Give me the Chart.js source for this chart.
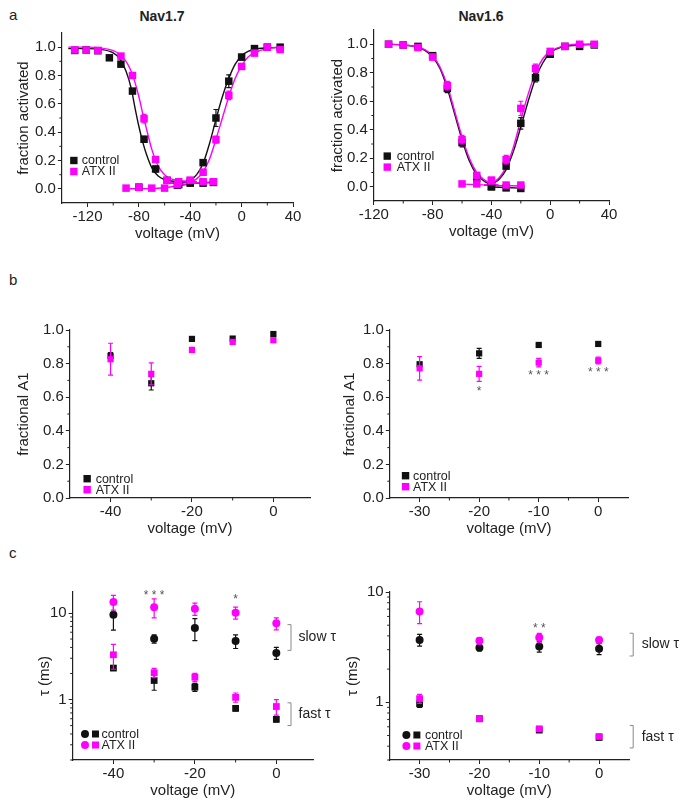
<!DOCTYPE html>
<html>
<head>
<meta charset="utf-8">
<script src="https://cdn.jsdelivr.net/npm/chart.js@4.4.1/dist/chart.umd.min.js"></script>
<style>
  body { margin: 0; background: #fff; }
  #fig { position: relative; width: 685px; height: 806px; overflow: hidden;
         font-family: "Liberation Sans", Arial, sans-serif; color: #222; }
  .pn { position: absolute; }
  .lbl { position: absolute; font-size: 15px; line-height: 15px; white-space: nowrap; }
  .ttl { position: absolute; width: 100px; text-align: center; font-size: 14px;
         line-height: 14px; font-weight: bold; }
</style>
</head>
<body>
<div id="fig">
  <div class="lbl" style="left:9px;top:7px">a</div>
  <div class="lbl" style="left:9px;top:272px">b</div>
  <div class="lbl" style="left:9px;top:545px">c</div>
  <div class="ttl" style="left:112px;top:9px">Nav1.7</div>
  <div class="ttl" style="left:431px;top:9px">Nav1.6</div>
  <div class="pn"><canvas id="a1"></canvas></div>
  <div class="pn"><canvas id="a2"></canvas></div>
  <div class="pn"><canvas id="b1"></canvas></div>
  <div class="pn"><canvas id="b2"></canvas></div>
  <div class="pn"><canvas id="c1"></canvas></div>
  <div class="pn"><canvas id="c2"></canvas></div>
</div>
<script>
// ---------- data ----------
const fracTicks = [0, 0.2, 0.4, 0.6, 0.8, 1.0];
const tauTicks = [1, 10];

// a: Nav1.7
const n17InV = [-130, -121, -112, -103, -94, -85, -76, -67, -58, -49, -40];
const n17InCtl = [0.977, 0.98, 0.975, 0.925, 0.88, 0.69, 0.35, 0.14, 0.06, 0.03, 0.045];
const n17InCtlErr = [0.01, 0.01, 0.01, 0.01, 0.01, 0.015, 0.02, 0.02, 0.01, 0.01, 0.01];
const n17InAtx = [0.98, 0.98, 0.977, null, 0.937, 0.80, 0.495, 0.207, 0.06, 0.05, 0.06];
const n17InAtxErr = [0.01, 0.01, 0.01, null, 0.015, 0.02, 0.03, 0.02, 0.01, 0.01, 0.01];
const n17ActV = [-30, -20, -10, 0, 10, 20, 30];
const n17ActCtl = [0.185, 0.50, 0.76, 0.93, 0.99, 1.0, 1.0];
const n17ActCtlErr = [0.02, 0.06, 0.045, 0.02, 0.01, 0.01, 0.01];
const n17ActAtx = [0.117, 0.347, 0.66, 0.864, 0.958, 1.0, 0.983];
const n17ActAtxErr = [0.02, 0.025, 0.03, 0.02, 0.01, 0.01, 0.01];
const n17FlatAtxV = [-90, -80, -70, -60, -50, -40, -30, -22];
const n17FlatAtx = [0.005, 0.01, 0.005, 0.005, 0.03, 0.06, 0.05, 0.05];
const n17FlatCtlV = [-80, -50, -40, -30, -22];
const n17FlatCtl = [0.012, 0.025, 0.04, 0.04, 0.045];
// fitted curves (traced)
const n17FitInV = [-135, -120, -110, -100, -95, -90, -86, -83, -80, -77, -74, -70, -65, -60, -55, -45, -35];
const n17FitInCtl = [0.99, 0.99, 0.985, 0.96, 0.92, 0.83, 0.71, 0.57, 0.44, 0.33, 0.24, 0.15, 0.09, 0.065, 0.055, 0.05, 0.05];
const n17FitInAtx = [1.0, 1.0, 0.995, 0.975, 0.95, 0.9, 0.83, 0.75, 0.65, 0.53, 0.42, 0.28, 0.16, 0.1, 0.07, 0.055, 0.05];
const n17FitActV = [-55, -45, -40, -35, -30, -25, -20, -15, -10, -5, 0, 5, 10, 20, 32];
const n17FitActCtl = [0.04, 0.045, 0.06, 0.1, 0.18, 0.32, 0.49, 0.65, 0.78, 0.88, 0.94, 0.97, 0.985, 0.995, 1.0];
const n17FitActAtx = [0.04, 0.04, 0.05, 0.07, 0.12, 0.21, 0.35, 0.5, 0.65, 0.78, 0.87, 0.93, 0.96, 0.99, 1.0];
const n17FitFlatAtxV = [-92, -70, -60, -50, -40, -30, -20];
const n17FitFlatAtx = [0.0, 0.002, 0.008, 0.02, 0.035, 0.045, 0.05];
const n17FitFlatCtlV = [-52, -40, -30, -20];
const n17FitFlatCtl = [0.02, 0.035, 0.042, 0.045];

// a: Nav1.6
const n16InV = [-110, -100, -90, -80, -70, -60, -50, -40];
const n16InCtl = [1.0, 0.995, 0.985, 0.92, 0.69, 0.31, 0.06, 0.0];
const n16InCtlErr = [0.01, 0.01, 0.01, 0.01, 0.03, 0.03, 0.01, 0.01];
const n16InAtx = [1.0, 0.995, 0.977, 0.91, 0.71, 0.33, 0.08, 0.04];
const n16InAtxErr = [0.01, 0.01, 0.02, 0.02, 0.03, 0.03, 0.02, 0.01];
const n16ActV = [-30, -20, -10, 0, 10, 20, 30];
const n16ActCtl = [0.145, 0.445, 0.765, 0.93, 0.985, 0.985, 0.995];
const n16ActCtlErr = [0.02, 0.04, 0.03, 0.02, 0.01, 0.01, 0.01];
const n16ActAtx = [0.19, 0.55, 0.83, 0.95, 0.985, 1.0, 1.0];
const n16ActAtxErr = [0.03, 0.05, 0.03, 0.01, 0.01, 0.01, 0.01];
const n16FlatAtxV = [-60, -50, -40, -30, -20];
const n16FlatAtx = [0.02, 0.02, 0.047, 0.012, 0.012];
const n16FlatCtlV = [-40, -30, -20];
const n16FlatCtl = [0.0, -0.008, -0.012];
const n16FitInV = [-112, -100, -90, -85, -80, -75, -70, -65, -60, -55, -50, -45, -40, -35];
const n16FitInCtl = [1.0, 0.995, 0.978, 0.955, 0.91, 0.83, 0.69, 0.51, 0.33, 0.18, 0.085, 0.04, 0.015, 0.008];
const n16FitInAtx = [1.0, 0.995, 0.98, 0.96, 0.92, 0.84, 0.71, 0.53, 0.35, 0.2, 0.1, 0.05, 0.02, 0.012];
const n16FitActV = [-45, -40, -35, -30, -25, -20, -15, -10, -5, 0, 5, 10, 20, 30];
const n16FitActCtl = [0.01, 0.02, 0.05, 0.12, 0.25, 0.42, 0.6, 0.76, 0.87, 0.94, 0.97, 0.985, 0.995, 1.0];
const n16FitActAtx = [0.01, 0.025, 0.06, 0.14, 0.28, 0.47, 0.65, 0.8, 0.9, 0.95, 0.975, 0.99, 1.0, 1.0];
const n16FitFlatAtxV = [-62, -40, -20];
const n16FitFlatAtx = [0.02, 0.01, 0.005];
const n16FitFlatCtlV = [-42, -20];
const n16FitFlatCtl = [0.0, -0.01];

// b: fractional A1
const b17V = [-40, -30, -20, -10, 0];
const b17Ctl = [0.846, 0.683, 0.947, 0.949, 0.976];
const b17CtlErr = [0.02, 0.04, 0.01, 0.01, 0.01];
const b17Atx = [0.826, 0.739, 0.881, 0.929, 0.939];
const b17AtxErr = [0.095, 0.065, 0.015, 0.01, 0.01];
const b16V = [-30, -20, -10, 0];
const b16Ctl = [0.796, 0.861, 0.911, 0.917];
const b16CtlErr = [0.01, 0.03, 0.01, 0.01];
const b16Atx = [0.772, 0.739, 0.806, 0.818];
const b16AtxErr = [0.07, 0.045, 0.025, 0.02];

// c: time constants (ms)
const c17V = [-40, -30, -20, -10, 0];
const c17SlowCtl = [9.56, 5.04, 6.7, 4.74, 3.46];
const c17SlowCtlErr = [3.2, 0.55, 1.9, 0.85, 0.55];
const c17SlowAtx = [13.4, 11.7, 11.2, 10.1, 7.6];
const c17SlowAtxErr = [2.6, 2.9, 1.8, 1.6, 1.2];
const c17FastCtl = [2.31, 1.66, 1.39, 0.79, 0.59];
const c17FastCtlErr = [0.05, 0.38, 0.15, 0.05, 0.04];
const c17FastAtx = [3.29, 2.04, 1.81, 1.06, 0.83];
const c17FastAtxErr = [1.05, 0.25, 0.2, 0.13, 0.17];
const c16V = [-30, -20, -10, 0];
const c16SlowCtl = [3.68, 3.13, 3.2, 3.06];
const c16SlowCtlErr = [0.45, 0.2, 0.35, 0.35];
const c16SlowAtx = [6.66, 3.62, 3.86, 3.68];
const c16SlowAtxErr = [1.5, 0.25, 0.35, 0.2];
const c16FastCtl = [0.97, 0.71, 0.56, 0.48];
const c16FastCtlErr = [0.07, 0.02, 0.02, 0.02];
const c16FastAtx = [1.08, 0.71, 0.575, 0.49];
const c16FastAtxErr = [0.1, 0.03, 0.02, 0.02];

// ---------- drawing ----------
const BLK = '#111', MAG = '#ff00ff', INK = '#222';
const FONT = '"Liberation Sans", Arial, sans-serif';
Chart.defaults.font.family = FONT;
Chart.defaults.animation = false;

const xy = (xs, ys) => xs.map((x, i) => ({ x: x, y: ys[i] }));

function marks(xs, ys, err, color, style, r, order) {
    return { data: xy(xs, ys), err: err, showLine: false, pointStyle: style, pointRadius: r,
        backgroundColor: color, borderColor: color, borderWidth: 0, order: order, clip: false };
}
function fit(xs, ys, color) {
    return { data: xy(xs, ys), showLine: true, pointRadius: 0, borderColor: color, borderWidth: 1.4,
        cubicInterpolationMode: 'monotone', fill: false, order: 5, clip: false };
}
function axis(type, min, max, ticks, title, fmt, gap) {
    return {
        type: type, min: min, max: max,
        afterBuildTicks: s => { s.ticks = ticks.map(v => ({ value: v })); },
        ticks: { color: INK, font: { size: 15, lineHeight: 1 }, padding: 2,
                 maxRotation: 0, autoSkip: false, callback: fmt },
        grid: { drawOnChartArea: false, drawTicks: true, tickLength: 4, color: INK, lineWidth: 1 },
        border: { display: true, color: INK, width: 1.2 },
        title: { display: true, text: title, color: INK, font: { size: 15, lineHeight: 1 },
                 padding: { top: 0, bottom: gap } }
    };
}

const extras = {
    id: 'extras',
    beforeDatasetDraw(chart, args) {
        const ds = chart.data.datasets[args.index];
        if (!ds.err) return;
        const ctx = chart.ctx, ys = chart.scales.y;
        ctx.save();
        ctx.strokeStyle = ds.borderColor;
        ctx.lineWidth = 1.2;
        ctx.beginPath();
        args.meta.data.forEach((pt, i) => {
            const p = ds.data[i], e = ds.err[i];
            if (p.y == null || !e) return;
            const lo = ys.type === 'logarithmic' ? Math.max(p.y - e, p.y * 0.2) : p.y - e;
            const y1 = ys.getPixelForValue(p.y + e), y2 = ys.getPixelForValue(lo);
            ctx.moveTo(pt.x, y1); ctx.lineTo(pt.x, y2);
            ctx.moveTo(pt.x - 2.5, y1); ctx.lineTo(pt.x + 2.5, y1);
            ctx.moveTo(pt.x - 2.5, y2); ctx.lineTo(pt.x + 2.5, y2);
        });
        ctx.stroke();
        ctx.restore();
    },
    afterDraw(chart, args, o) {
        const ctx = chart.ctx, xs = chart.scales.x, ys = chart.scales.y, ca = chart.chartArea;
        ctx.save();
        // minor ticks
        ctx.strokeStyle = INK;
        ctx.lineWidth = 1;
        ctx.beginPath();
        (o.minorX || []).forEach(v => {
            const px = xs.getPixelForValue(v);
            ctx.moveTo(px, ca.bottom); ctx.lineTo(px, ca.bottom + 2.5);
        });
        (o.minorY || []).forEach(v => {
            const py = ys.getPixelForValue(v);
            ctx.moveTo(ca.left, py); ctx.lineTo(ca.left - 2.5, py);
        });
        ctx.stroke();
        // significance stars
        ctx.fillStyle = '#555';
        ctx.font = '12px ' + FONT;
        ctx.textAlign = 'center';
        ctx.textBaseline = 'middle';
        (o.stars || []).forEach(s => {
            ctx.fillText(s.t, xs.getPixelForValue(s.x), ys.getPixelForValue(s.y) + 3);
        });
        // brackets
        (o.brackets || []).forEach(b => {
            const px = xs.getPixelForValue(b.x);
            const y1 = ys.getPixelForValue(b.y1), y2 = ys.getPixelForValue(b.y2);
            ctx.strokeStyle = '#888';
            ctx.beginPath();
            ctx.moveTo(px - 3.5, y1); ctx.lineTo(px, y1); ctx.lineTo(px, y2); ctx.lineTo(px - 3.5, y2);
            ctx.stroke();
            ctx.fillStyle = INK;
            ctx.font = '14px ' + FONT;
            ctx.textAlign = 'left';
            ctx.fillText(b.label, px + b.tx, (y1 + y2) / 2);
        });
        // legend
        const lg = o.legend;
        if (lg) {
            ctx.font = '12.5px ' + FONT;
            ctx.textAlign = 'left';
            ctx.textBaseline = 'middle';
            [['control', BLK], ['ATX II', MAG]].forEach((row, i) => {
                const x = ca.left + lg.dx, y = ca.bottom - lg.dy + i * 11;
                ctx.fillStyle = row[1];
                if (lg.circle) {
                    ctx.beginPath();
                    ctx.arc(x, y, 4, 0, Math.PI * 2);
                    ctx.fill();
                    ctx.fillRect(x + 7, y - 3.5, 7, 7);
                } else {
                    ctx.fillRect(x - 3.7, y - 3.7, 7.4, 7.4);
                }
                ctx.fillStyle = INK;
                ctx.fillText(row[0], x + lg.tx, y + 0.5);
            });
        }
        ctx.restore();
    }
};

function panel(id, box, datasets, scales, extra, padRight) {
    const canvas = document.getElementById(id);
    canvas.width = 330; canvas.height = 240;
    canvas.parentNode.style.width = '330px';
    canvas.parentNode.style.height = '240px';
    const chart = new Chart(canvas.getContext('2d'), {
        type: 'scatter',
        data: { datasets: datasets },
        options: {
            responsive: false, maintainAspectRatio: false, events: [],
            layout: { padding: { top: 12, right: padRight, bottom: 2, left: 2 } },
            scales: scales,
            plugins: { legend: { display: false }, tooltip: { enabled: false }, extras: extra }
        },
        plugins: [extras]
    });
    // shift and size the canvas so the plot area sits where it does in the figure
    const div = canvas.parentNode;
    for (let k = 0; k < 3; k++) {
        const ca = chart.chartArea;
        const w = Math.round(chart.width + (box.r - box.l) - (ca.right - ca.left));
        const h = Math.round(chart.height + (box.b - box.t) - (ca.bottom - ca.top));
        div.style.width = w + 'px';
        div.style.height = h + 'px';
        chart.resize(w, h);
    }
    const ca = chart.chartArea;
    div.style.left = (box.l - ca.left) + 'px';
    div.style.top = (box.t - ca.top) + 'px';
    return chart;
}

const f1 = v => v.toFixed(1);
const fs = v => String(v);

// a, Nav1.7
panel('a1', { l: 61.7, t: 32.5, r: 293, b: 202.5 }, [
    marks(n17InV, n17InAtx, n17InAtxErr, MAG, 'rect', 5.3, 1),
    marks(n17ActV, n17ActAtx, n17ActAtxErr, MAG, 'rect', 5.3, 1),
    marks(n17FlatAtxV, n17FlatAtx, null, MAG, 'rect', 5.3, 1),
    marks(n17InV, n17InCtl, n17InCtlErr, BLK, 'rect', 5.3, 2),
    marks(n17ActV, n17ActCtl, n17ActCtlErr, BLK, 'rect', 5.3, 2),
    marks(n17FlatCtlV, n17FlatCtl, null, BLK, 'rect', 5.3, 2),
    fit(n17FitInV, n17FitInAtx, MAG), fit(n17FitActV, n17FitActAtx, MAG), fit(n17FitFlatAtxV, n17FitFlatAtx, MAG),
    fit(n17FitInV, n17FitInCtl, BLK), fit(n17FitActV, n17FitActCtl, BLK), fit(n17FitFlatCtlV, n17FitFlatCtl, BLK)
], {
    x: axis('linear', -140, 40, [-120, -80, -40, 0, 40], 'voltage (mV)', fs, 0),
    y: axis('linear', -0.1, 1.1, fracTicks, 'fraction activated', f1, 2)
}, {
    minorX: [-100, -60, -20, 20], minorY: [0.1, 0.3, 0.5, 0.7, 0.9],
    legend: { dx: 12, dy: 42.5, tx: 8 }
}, 16);

// a, Nav1.6
panel('a2', { l: 374.3, t: 30.1, r: 609, b: 200.9 }, [
    marks(n16InV, n16InAtx, n16InAtxErr, MAG, 'rect', 5.3, 1),
    marks(n16ActV, n16ActAtx, n16ActAtxErr, MAG, 'rect', 5.3, 1),
    marks(n16FlatAtxV, n16FlatAtx, null, MAG, 'rect', 5.3, 1),
    marks(n16InV, n16InCtl, n16InCtlErr, BLK, 'rect', 5.3, 2),
    marks(n16ActV, n16ActCtl, n16ActCtlErr, BLK, 'rect', 5.3, 2),
    marks(n16FlatCtlV, n16FlatCtl, null, BLK, 'rect', 5.3, 2),
    fit(n16FitInV, n16FitInAtx, MAG), fit(n16FitActV, n16FitActAtx, MAG), fit(n16FitFlatAtxV, n16FitFlatAtx, MAG),
    fit(n16FitInV, n16FitInCtl, BLK), fit(n16FitActV, n16FitActCtl, BLK), fit(n16FitFlatCtlV, n16FitFlatCtl, BLK)
], {
    x: axis('linear', -120, 40, [-120, -80, -40, 0, 40], 'voltage (mV)', fs, 0),
    y: axis('linear', -0.1, 1.1, fracTicks, 'fraction activated', f1, 0)
}, {
    minorX: [-100, -60, -20, 20], minorY: [0.1, 0.3, 0.5, 0.7, 0.9],
    legend: { dx: 13.4, dy: 44.9, tx: 9.5 }
}, 16);

// b, Nav1.7
panel('b1', { l: 70, t: 330, r: 310, b: 498.3 }, [
    marks(b17V, b17Atx, b17AtxErr, MAG, 'rect', 4.4, 1),
    marks(b17V, b17Ctl, b17CtlErr, BLK, 'rect', 4.4, 2)
], {
    x: axis('linear', -50, 9, [-40, -20, 0], 'voltage (mV)', fs, 0),
    y: axis('linear', 0, 1, fracTicks, 'fractional A1', f1, 10)
}, {
    minorX: [-30, -10], minorY: [0.1, 0.3, 0.5, 0.7, 0.9],
    legend: { dx: 17.3, dy: 19.3, tx: 8.5 }
}, 16);

// b, Nav1.6
panel('b2', { l: 390, t: 330, r: 628.3, b: 498.3 }, [
    marks(b16V, b16Atx, b16AtxErr, MAG, 'rect', 4.4, 1),
    marks(b16V, b16Ctl, b16CtlErr, BLK, 'rect', 4.4, 2)
], {
    x: axis('linear', -35, 5, [-30, -20, -10, 0], 'voltage (mV)', fs, 0),
    y: axis('linear', 0, 1, fracTicks, 'fractional A1', f1, 4)
}, {
    minorX: [-25, -15, -5], minorY: [0.1, 0.3, 0.5, 0.7, 0.9],
    stars: [{ x: -20, y: 0.65, t: '*' }, { x: -10, y: 0.743, t: '* * *' }, { x: 0, y: 0.762, t: '* * *' }],
    legend: { dx: 15.7, dy: 22.3, tx: 7.5 }
}, 16);

const logMinor = [0.2, 0.3, 0.4, 0.5, 0.6, 0.7, 0.8, 0.9, 2, 3, 4, 5, 6, 7, 8, 9];

// c, Nav1.7
panel('c1', { l: 72.7, t: 591.7, r: 312.7, b: 760 }, [
    marks(c17V, c17SlowAtx, c17SlowAtxErr, MAG, 'circle', 4, 1),
    marks(c17V, c17FastAtx, c17FastAtxErr, MAG, 'rect', 4.8, 1),
    marks(c17V, c17SlowCtl, c17SlowCtlErr, BLK, 'circle', 4, 2),
    marks(c17V, c17FastCtl, c17FastCtlErr, BLK, 'rect', 4.8, 2)
], {
    x: axis('linear', -50, 9, [-40, -20, 0], 'voltage (mV)', fs, 0),
    y: axis('logarithmic', 0.2, 17.5, tauTicks, 'τ (ms)', fs, -4)
}, {
    minorX: [-30, -10], minorY: logMinor,
    stars: [{ x: -30, y: 17, t: '* * *' }, { x: -10, y: 15.3, t: '*' }],
    brackets: [{ x: 3.6, y1: 7.34, y2: 3.7, label: 'slow τ', tx: 7.5 },
               { x: 3.6, y1: 0.916, y2: 0.5, label: 'fast τ', tx: 7.5 }],
    legend: { dx: 12.3, dy: 26, tx: 16.5, circle: true }
}, 30);

// c, Nav1.6
panel('c2', { l: 390, t: 592.3, r: 629.3, b: 760 }, [
    marks(c16V, c16SlowAtx, c16SlowAtxErr, MAG, 'circle', 4, 1),
    marks(c16V, c16FastAtx, c16FastAtxErr, MAG, 'rect', 4.8, 1),
    marks(c16V, c16SlowCtl, c16SlowCtlErr, BLK, 'circle', 4, 2),
    marks(c16V, c16FastCtl, c16FastCtlErr, BLK, 'rect', 4.8, 2)
], {
    x: axis('linear', -35, 5, [-30, -20, -10, 0], 'voltage (mV)', fs, 0),
    y: axis('logarithmic', 0.3, 10, tauTicks, 'τ (ms)', fs, 5)
}, {
    minorX: [-25, -15, -5], minorY: logMinor.filter(v => v >= 0.3),
    stars: [{ x: -10, y: 4.93, t: '* *' }],
    brackets: [{ x: 5.7, y1: 4.23, y2: 2.63, label: 'slow τ', tx: 8.5 },
               { x: 5.7, y1: 0.617, y2: 0.386, label: 'fast τ', tx: 8.5 }],
    legend: { dx: 16.7, dy: 25, tx: 18.5, circle: true }
}, 56);
</script>
</body>
</html>
